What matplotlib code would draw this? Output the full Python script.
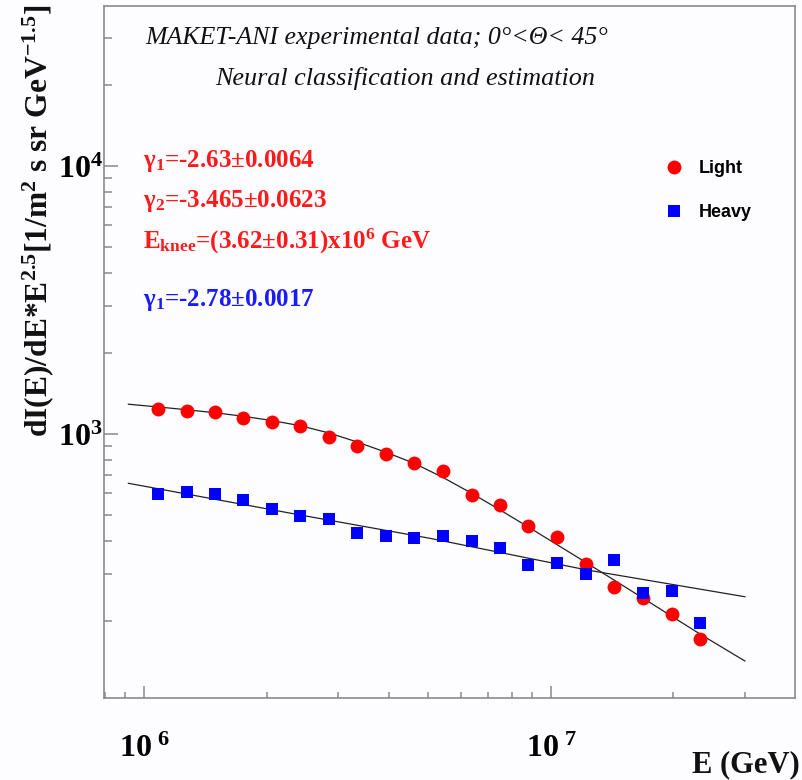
import numpy as np
import matplotlib
matplotlib.use("Agg")
import matplotlib.pyplot as plt
from matplotlib.ticker import LogLocator, NullFormatter, FuncFormatter
from matplotlib.lines import Line2D

# ---------------- data ----------------
energy = [1.083e6, 1.273e6, 1.494e6, 1.754e6, 2.060e6, 2.417e6, 2.848e6,
          3.343e6, 3.926e6, 4.608e6, 5.429e6, 6.386e6, 7.493e6, 8.797e6,
          1.036e7, 1.217e7, 1.431e7, 1.686e7, 1.980e7, 2.323e7]
light = [1240, 1222, 1205, 1150, 1111, 1074, 977, 904, 842, 781,
         730, 592, 543, 454, 414, 326, 269, 244, 213, 172]
heavy = [597, 606, 597, 567, 524, 494, 481, 428, 417, 408,
         416, 399, 376, 325, 329, 300, 339, 254, 259, 197]

fit_light_E = [9.151e5, 1.083e6, 1.273e6, 1.494e6, 1.754e6, 2.060e6, 2.417e6,
               2.848e6, 3.343e6, 3.926e6, 4.608e6, 5.429e6, 6.386e6, 7.493e6,
               8.797e6, 1.217e7, 1.686e7, 2.323e7, 2.998e7]
fit_light_v = [1291, 1261, 1231, 1200, 1164, 1122, 1074,
               1008.6, 933, 855, 777.6, 688, 600.6, 520.8,
               449.8, 332.1, 243.7, 179.4, 142.2]
fit_heavy_E = [9.151e5, 2.417e6, 5.043e6, 1.224e7, 2.998e7]
fit_heavy_v = [654.6, 498.7, 408, 311, 247]

series_labels = ["Light", "Heavy"]
title_lines = ["MAKET-ANI experimental data; 0°<Θ< 45°",
               "Neural classification and estimation"]
fit_texts_light = ["γ$_{1}$=-2.63±0.0064",
                   "γ$_{2}$=-3.465±0.0623",
                   "E$_{knee}$=(3.62±0.31)x10$^{6}$ GeV"]
fit_text_heavy = "γ$_{1}$=-2.78±0.0017"
ylabel_text = "dI(E)/dE*E$^{2.5}$[1/m$^{2}$ s sr GeV$^{-1.5}$]"
xlabel_text = "E (GeV)"

# ---------------- style ----------------
plt.rcParams['mathtext.fontset'] = 'custom'
plt.rcParams['mathtext.rm'] = 'Liberation Serif:bold'
plt.rcParams['mathtext.bf'] = 'Liberation Serif:bold'
plt.rcParams['mathtext.it'] = 'Liberation Serif:bold:italic'
plt.rcParams['mathtext.default'] = 'rm'

W, H = 802, 780
bg = '#fdfcff'
fig = plt.figure(figsize=(W / 100, H / 100), dpi=100, facecolor=bg)

def fx(px):
    return px / W

def fy(py):
    return 1 - py / H

ax = fig.add_axes([fx(104), fy(698), fx(795) - fx(104), fy(6) - fy(698)])
ax.set_facecolor(bg)
ax.set_xscale('log')
ax.set_yscale('log')
ax.set_xlim(7.97e5, 3.98e7)
ax.set_ylim(1.035e2, 3.95e4)

frame_col = '#8a8a8a'
for s in ax.spines.values():
    s.set_color(frame_col)
    s.set_linewidth(1.2)

ax.xaxis.set_major_locator(LogLocator(base=10, numticks=10))
ax.yaxis.set_major_locator(LogLocator(base=10, numticks=10))
ax.xaxis.set_minor_locator(LogLocator(base=10, subs=np.arange(2, 10), numticks=20))
ax.yaxis.set_minor_locator(LogLocator(base=10, subs=np.arange(2, 10), numticks=20))
ax.xaxis.set_minor_formatter(NullFormatter())
ax.yaxis.set_minor_formatter(NullFormatter())
ax.xaxis.set_major_formatter(
    FuncFormatter(lambda v, p: r'$10^{\ %d}$' % int(round(np.log10(v)))))
ax.yaxis.set_major_formatter(
    FuncFormatter(lambda v, p: r'$10^{%d}$' % int(round(np.log10(v)))))

ax.tick_params(axis='y', which='major', direction='in', length=10, width=1.1,
               color=frame_col, labelsize=23, pad=1)
ax.tick_params(axis='y', which='minor', direction='in', length=5.5, width=1.1,
               color=frame_col)
ax.tick_params(axis='x', which='major', direction='in', length=9, width=1.1,
               color=frame_col, labelsize=23, pad=25)
ax.tick_params(axis='x', which='minor', direction='in', length=4, width=1.1,
               color=frame_col)
ax.tick_params(top=False, right=False, which='both')

# fit lines
ax.plot(fit_light_E, fit_light_v, color='#222222', lw=0.9, zorder=2)
ax.plot(fit_heavy_E, fit_heavy_v, color='#222222', lw=0.9, zorder=2)

# data
ax.plot(energy, light, 'o', color='#ff0000', markersize=10, markeredgewidth=0,
        zorder=3)
ax.plot(energy, heavy, 's', color='#0000ff', markersize=9.3, markeredgewidth=0,
        zorder=4)

# legend
handles = [Line2D([], [], marker='o', ls='none', color='#ff0000', markersize=10,
                  markeredgewidth=0),
           Line2D([], [], marker='s', ls='none', color='#0000ff', markersize=9.3,
                  markeredgewidth=0)]
leg = fig.legend(handles, series_labels, loc='upper left',
                 bbox_to_anchor=(fx(667), fy(160)), bbox_transform=fig.transFigure,
                 frameon=False, borderpad=0, borderaxespad=0,
                 handlelength=0.8, handletextpad=0.95, labelspacing=1.5,
                 prop={'family': 'Liberation Sans', 'weight': 'bold', 'size': 13})

# title texts
fig.text(fx(145), fy(38), title_lines[0], family='Liberation Serif',
         style='italic', fontsize=18.6, ha='left', va='center', color='#111111')
fig.text(fx(215), fy(78), title_lines[1], family='Liberation Serif',
         style='italic', fontsize=18.8, ha='left', va='center', color='#111111')

# fit result texts
red_baselines = [167, 207, 249]
for t, yb in zip(fit_texts_light, red_baselines):
    fig.text(fx(143), fy(yb), t, family='Liberation Serif', weight='bold',
             fontsize=18, color='#ff1a1a', ha='left', va='baseline')
fig.text(fx(143), fy(306), fit_text_heavy, family='Liberation Serif', weight='bold',
         fontsize=18, color='#1a1aff', ha='left', va='baseline')

# axis labels
fig.text(fx(38), fy(221), ylabel_text, rotation=90, family='Liberation Serif',
         weight='bold', fontsize=22.7, ha='center', va='center', color='#111111')
fig.text(fx(800), fy(765), xlabel_text, family='Liberation Serif', weight='bold',
         fontsize=22, ha='right', va='center', color='#111111')

fig.savefig('out.png', dpi=100, facecolor=bg)
